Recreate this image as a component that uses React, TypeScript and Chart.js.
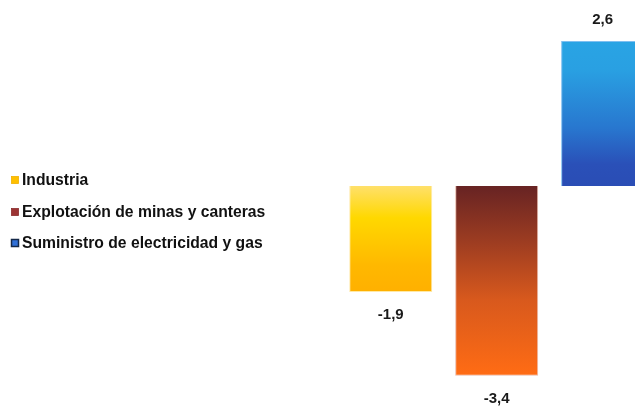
import React, { useEffect, useRef } from "react";
import { Chart, registerables } from "chart.js";

Chart.register(...registerables);

// Sectors and their annual variation (%)
const categories = [
  "Industria",
  "Explotación de minas y canteras",
  "Suministro de electricidad y gas",
];
const values = [-1.9, -3.4, 2.6];

// Gradient stops per bar, from the top edge of the bar to the bottom edge
const gradientStops: [number, string][][] = [
  [
    [0, "#FFE06A"],
    [0.3, "#FFD800"],
    [0.75, "#FFB800"],
    [1, "#FFB000"],
  ],
  [
    [0, "#672323"],
    [0.3, "#9E3D21"],
    [0.6, "#D8591D"],
    [1, "#FF6C14"],
  ],
  [
    [0, "#29A4E4"],
    [0.2, "#29A0E2"],
    [0.6, "#2877CF"],
    [0.85, "#2A50B8"],
    [1, "#2A4DB5"],
  ],
];
const legendFill = ["#FFC000", "#9C3434", "#2F6FD6"];
const legendStroke = ["#F0B000", "#8A2C2C", "#142848"];
const edgeColors = ["#FFE9A6", "#E8B8A8", "#7FBFF0"];

const fmt = (v: number) => v.toFixed(1).replace(".", ",");
const FONT = "'Liberation Sans', Arial, sans-serif";

const valueLabels = {
  id: "valueLabels",
  afterDatasetsDraw(chart: any) {
    const { ctx } = chart;
    const meta = chart.getDatasetMeta(0);
    ctx.save();
    ctx.font = `bold 15px ${FONT}`;
    ctx.fillStyle = "#1a1a1a";
    ctx.textAlign = "center";
    ctx.textBaseline = "middle";
    meta.data.forEach((bar: any, i: number) => {
      const v = values[i];
      const y = v >= 0 ? bar.y - 21 : bar.y + 23;
      ctx.fillText(fmt(v), bar.x, y);
    });
    ctx.restore();
  },
};

const sideLegend = {
  id: "sideLegend",
  afterDraw(chart: any) {
    const { ctx } = chart;
    const labels: string[] = chart.data.labels;
    const rows = [180, 212, 243];
    ctx.save();
    ctx.font = `bold 15.7px ${FONT}`;
    ctx.textBaseline = "middle";
    ctx.textAlign = "left";
    labels.forEach((text, i) => {
      const cy = rows[i];
      ctx.fillStyle = legendFill[i];
      ctx.fillRect(11.5, cy - 3.5, 7, 7);
      ctx.strokeStyle = legendStroke[i];
      ctx.lineWidth = i === 2 ? 1.5 : 0.8;
      ctx.strokeRect(11.5, cy - 3.5, 7, 7);
      ctx.fillStyle = "#111111";
      ctx.fillText(text, 22, cy + 1);
    });
    ctx.restore();
  },
};

export default function App() {
  const canvasRef = useRef<HTMLCanvasElement | null>(null);

  useEffect(() => {
    if (!canvasRef.current) return;
    const chart = new Chart(canvasRef.current, {
      type: "bar",
      data: {
        labels: categories,
        datasets: [
          {
            data: values,
            backgroundColor: (c: any) => {
              const ch = c.chart;
              const i = c.dataIndex ?? 0;
              const ys = ch.scales?.y;
              if (!ys || !ch.chartArea) return legendFill[i];
              const v = values[i];
              const y0 = ys.getPixelForValue(0);
              const y1 = ys.getPixelForValue(v);
              if (!Number.isFinite(y0) || !Number.isFinite(y1) || y0 === y1) {
                return legendFill[i];
              }
              const top = Math.min(y0, y1);
              const bottom = Math.max(y0, y1);
              const g = ch.ctx.createLinearGradient(0, top, 0, bottom);
              gradientStops[i].forEach(([o, col]) => g.addColorStop(o, col));
              return g;
            },
            borderColor: edgeColors,
            borderWidth: 1,
            barPercentage: 0.784,
            categoryPercentage: 1,
          },
        ],
      },
      options: {
        responsive: false,
        animation: false,
        devicePixelRatio: 1,
        layout: {
          padding: { left: 337.8, right: 4.4, top: 18.6, bottom: 9 },
        },
        scales: {
          x: { display: false, grid: { display: false } },
          y: { display: false, min: -3.8, max: 3.0, grid: { display: false } },
        },
        plugins: {
          legend: { display: false },
          tooltip: { enabled: false },
        },
      },
      plugins: [valueLabels, sideLegend],
    });
    return () => chart.destroy();
  }, []);

  return (
    <div
      style={{
        position: "fixed",
        left: 0,
        top: 0,
        width: 635,
        height: 407,
        overflow: "hidden",
        background: "#ffffff",
      }}
    >
      <canvas ref={canvasRef} width={660} height={407} style={{ display: "block" }} />
    </div>
  );
}
